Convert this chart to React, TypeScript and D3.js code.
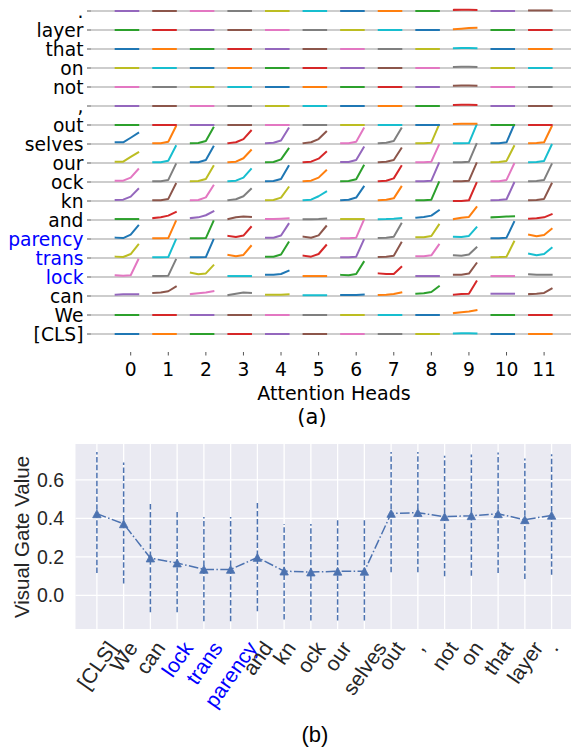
import React from 'react';
import * as d3 from 'd3';

const tokens = ['[CLS]', 'We', 'can', 'lock', 'trans', 'parency', 'and', 'kn', 'ock', 'our', 'selves', 'out', ',', 'not', 'on', 'that', 'layer', '.'];
const highlighted = ['lock', 'trans', 'parency'];
const heads = [0, 1, 2, 3, 4, 5, 6, 7, 8, 9, 10, 11];
const stepOffsets = [-0.4, -0.2, 0, 0.2];

const Z = [0, 0, 0, 0];
const curvesCLS = [Z, Z, Z, Z, Z, Z, Z, Z, Z, [0.03, 0.04, 0.04, 0.03], Z, Z];
const curvesWe = [Z, Z, Z, Z, Z, Z, Z, Z, Z, [0.1, 0.14, 0.18, 0.25], Z, Z];
const curvesCan = [[0.07, 0.09, 0.09, 0.09], [0.16, 0.18, 0.25, 0.49], [0.1, 0.14, 0.18, 0.25], [0.05, 0.12, 0.18, 0.16], [0.07, 0.07, 0.07, 0.09], [0.04, 0.04, 0.04, 0.04], [0.05, 0.05, 0.05, 0.07], [0.05, 0.07, 0.1, 0.19], [0.12, 0.14, 0.21, 0.51], [0.07, 0.1, 0.12, 0.77], [0.12, 0.12, 0.12, 0.12], [0.1, 0.12, 0.16, 0.39]];
const curvesLock = [[0.09, 0.07, 0.09, 0.91], [0.05, 0.05, 0.07, 0.91], [0.23, 0.14, 0.19, 0.61], [0.05, 0.05, 0.05, 0.05], [0.12, 0.12, 0.16, 0.33], [0.05, 0.05, 0.05, 0.05], [0.11, 0.09, 0.16, 0.79], [0.19, 0.16, 0.16, 0.53], [0.05, 0.05, 0.05, 0.05], [0.12, 0.12, 0.18, 0.72], [0.05, 0.05, 0.05, 0.05], [0.14, 0.12, 0.12, 0.12]];
const curvesTrans = [[0.07, 0.05, 0.21, 0.7], [0.04, 0.04, 0.05, 0.96], [0.04, 0.04, 0.05, 0.96], [0.16, 0.09, 0.16, 0.63], [0.07, 0.07, 0.18, 0.82], [0.12, 0.07, 0.21, 0.67], [0.04, 0.04, 0.07, 0.95], [0.05, 0.07, 0.12, 0.81], [0.09, 0.09, 0.14, 0.7], [0.14, 0.12, 0.18, 0.56], [0.04, 0.05, 0.07, 0.86], [0.23, 0.14, 0.21, 0.53]];
const curvesParency = [[0.07, 0.05, 0.23, 0.7], [0.04, 0.04, 0.05, 0.93], [0.04, 0.04, 0.05, 0.93], [0.16, 0.11, 0.18, 0.63], [0.07, 0.07, 0.18, 0.79], [0.12, 0.07, 0.19, 0.67], [0.04, 0.04, 0.07, 0.98], [0.05, 0.07, 0.12, 0.81], [0.09, 0.09, 0.16, 0.75], [0.12, 0.11, 0.16, 0.61], [0.04, 0.04, 0.07, 0.89], [0.23, 0.14, 0.21, 0.53]];
const curvesAnd = [[0.05, 0.05, 0.05, 0.05], [0.1, 0.14, 0.23, 0.42], [0.1, 0.14, 0.25, 0.46], [0.05, 0.14, 0.18, 0.16], [0.05, 0.05, 0.07, 0.09], [0.04, 0.04, 0.05, 0.07], [0.05, 0.05, 0.05, 0.05], [0.04, 0.05, 0.07, 0.1], [0.12, 0.16, 0.23, 0.51], [0.05, 0.12, 0.16, 0.67], [0.14, 0.16, 0.18, 0.19], [0.07, 0.09, 0.14, 0.3]];
const curvesKn = [[0.05, 0.07, 0.23, 0.63], [0.04, 0.04, 0.11, 0.9], [0.04, 0.05, 0.19, 0.81], [0.04, 0.09, 0.25, 0.63], [0.04, 0.05, 0.18, 0.72], [0.04, 0.07, 0.25, 0.49], [0.04, 0.07, 0.18, 0.75], [0.04, 0.07, 0.14, 0.75], [0.04, 0.04, 0.07, 0.98], [0.0, 0.0, 0.04, 0.95], [0.04, 0.05, 0.09, 0.95], [0.04, 0.05, 0.11, 0.91]];
const curvesOck = [[0.07, 0.07, 0.23, 0.67], [0.04, 0.04, 0.11, 0.93], [0.04, 0.05, 0.16, 0.84], [0.04, 0.07, 0.23, 0.68], [0.04, 0.05, 0.16, 0.84], [0.04, 0.07, 0.23, 0.61], [0.04, 0.05, 0.14, 0.86], [0.04, 0.07, 0.19, 0.84], [0.04, 0.04, 0.07, 0.98], [0.04, 0.04, 0.07, 0.98], [0.04, 0.04, 0.11, 0.95], [0.04, 0.05, 0.11, 0.93]];
const curvesOur = [[0.07, 0.07, 0.32, 0.56], [0.04, 0.04, 0.12, 0.89], [0.04, 0.04, 0.16, 0.86], [0.04, 0.07, 0.25, 0.67], [0.04, 0.05, 0.19, 0.75], [0.04, 0.07, 0.23, 0.58], [0.05, 0.05, 0.16, 0.82], [0.04, 0.07, 0.16, 0.77], [0.04, 0.04, 0.07, 0.95], [0.04, 0.04, 0.07, 1.0], [0.04, 0.05, 0.11, 0.89], [0.04, 0.05, 0.11, 0.95]];
const curvesSelves = [[0.09, 0.09, 0.33, 0.58], [0.04, 0.04, 0.12, 0.91], [0.04, 0.05, 0.16, 0.86], [0.04, 0.09, 0.26, 0.7], [0.04, 0.07, 0.18, 0.82], [0.04, 0.09, 0.26, 0.65], [0.04, 0.04, 0.12, 0.82], [0.04, 0.07, 0.16, 0.82], [0.04, 0.04, 0.07, 1.0], [0.04, 0.04, 0.05, 1.0], [0.04, 0.04, 0.09, 1.0], [0.04, 0.05, 0.09, 0.91]];
const curvesOut = [Z, Z, Z, Z, Z, Z, Z, Z, Z, [0.05, 0.06, 0.06, 0.06], Z, Z];
const curvesComma = [Z, Z, Z, Z, Z, Z, Z, Z, Z, [0.05, 0.06, 0.06, 0.05], Z, Z];
const curvesNot = [Z, Z, Z, Z, Z, Z, Z, Z, Z, [0.07, 0.08, 0.08, 0.07], Z, Z];
const curvesOn = [Z, Z, Z, Z, Z, Z, Z, Z, Z, [0.05, 0.06, 0.06, 0.05], Z, Z];
const curvesThat = [Z, Z, Z, Z, Z, Z, Z, Z, Z, [0.04, 0.05, 0.05, 0.04], Z, Z];
const curvesLayer = [Z, Z, Z, Z, Z, Z, Z, Z, Z, [0.04, 0.07, 0.1, 0.12], Z, Z];
const curvesPeriod = [Z, Z, Z, Z, Z, Z, Z, Z, Z, [0.06, 0.07, 0.07, 0.06], Z, [0.03, 0.03, 0.03, 0.03]];

const headCurves = [curvesCLS, curvesWe, curvesCan, curvesLock, curvesTrans, curvesParency, curvesAnd, curvesKn, curvesOck, curvesOur, curvesSelves, curvesOut, curvesComma, curvesNot, curvesOn, curvesThat, curvesLayer, curvesPeriod];

const gateMean = [0.424, 0.372, 0.194, 0.168, 0.135, 0.135, 0.197, 0.126, 0.121, 0.125, 0.125, 0.426, 0.43, 0.409, 0.414, 0.424, 0.393, 0.416];
const gateLow = [0.116, 0.061, -0.088, -0.088, -0.135, -0.135, -0.083, -0.126, -0.131, -0.131, -0.131, 0.12, 0.12, 0.099, 0.102, 0.116, 0.085, 0.107];
const gateHigh = [0.745, 0.691, 0.476, 0.438, 0.407, 0.407, 0.487, 0.371, 0.371, 0.39, 0.39, 0.746, 0.746, 0.726, 0.733, 0.743, 0.712, 0.734];
const gateTicks = [0, 0.2, 0.4, 0.6];

const DV = "'DejaVu Sans', sans-serif";
const AR = "'Liberation Sans', Arial, sans-serif";
const BLUE = '#4C72B0';

function measure(text: string, font: string): number {
  const c = document.createElement('canvas').getContext('2d');
  if (!c) return text.length * 10;
  c.font = font;
  return c.measureText(text).width;
}

export default function App() {
  // Panel (a)
  const xA = d3.scaleLinear().domain([0, 11]).range([130.7, 544.1]);
  const yA = d3.scaleLinear().domain([0, 17]).range([334, 11]);
  const spark = d3
    .line<[number, number]>()
    .x((d) => d[0])
    .y((d) => d[1]);

  // Panel (b)
  const xB = d3.scaleLinear().domain([-0.8, 17.8]).range([75.5, 573]);
  const yB = d3.scaleLinear().domain([-0.175, 0.787]).range([629, 444]);
  const gateLine = d3
    .line<number>()
    .x((_, i) => xB(i))
    .y((d) => yB(d));

  const lblFs = 21;
  const rot = 55;
  const rad = (rot * Math.PI) / 180;
  const H = lblFs * 1.12;
  const labelTop = 637;

  const tri = (cx: number, cy: number) => {
    const w = 8.4, h = 7.8;
    return `M${cx},${cy - h / 2}L${cx + w / 2},${cy + h / 2}L${cx - w / 2},${cy + h / 2}Z`;
  };

  return (
    <svg width={571} height={751} style={{ position: 'absolute', left: 0, top: 0, background: '#fff' }}>
      {/* ---------- Panel (a) ---------- */}
      <g>
        {tokens.map((t, i) => (
          <g key={'row' + i}>
            <line x1={91} x2={571} y1={yA(i)} y2={yA(i)} stroke="#bdbdbd" strokeWidth={1.6} />
            <line x1={87} x2={91} y1={yA(i)} y2={yA(i)} stroke="#555" strokeWidth={1} />
            <text
              x={83.5}
              y={yA(i)}
              textAnchor="end"
              dominantBaseline="central"
              fontFamily={DV}
              fontSize={18.7}
              fill={highlighted.includes(t) ? '#0000ff' : '#000'}
            >
              {t}
            </text>
          </g>
        ))}
        {headCurves.map((row, i) =>
          row.map((vals, h) => (
            <path
              key={`c${i}-${h}`}
              d={spark(vals.map((v, k) => [xA(h + stepOffsets[k]), yA(i + v)] as [number, number])) || ''}
              fill="none"
              stroke={d3.schemeCategory10[(i * 12 + h) % 10]}
              strokeWidth={2}
              strokeLinejoin="round"
              strokeLinecap="square"
            />
          ))
        )}
        {heads.map((h) => (
          <g key={'xt' + h}>
            <line x1={xA(h)} x2={xA(h)} y1={352} y2={355.5} stroke="#555" strokeWidth={1} />
            <text x={xA(h)} y={376} textAnchor="middle" fontFamily={DV} fontSize={18.7} fill="#000">
              {h}
            </text>
          </g>
        ))}
        <text x={334} y={400} textAnchor="middle" fontFamily={DV} fontSize={19} fill="#000">
          Attention Heads
        </text>
        <text x={312} y={424} textAnchor="middle" fontFamily={DV} fontSize={21} fill="#000">
          (a)
        </text>
      </g>

      {/* ---------- Panel (b) ---------- */}
      <g>
        <rect x={75.5} y={444} width={500} height={185} fill="#EAEAF2" />
        {tokens.map((_, i) => (
          <line key={'vg' + i} x1={xB(i)} x2={xB(i)} y1={444} y2={629} stroke="#fff" strokeWidth={1.3} />
        ))}
        {gateTicks.map((t) => (
          <g key={'yg' + t}>
            <line x1={75.5} x2={575} y1={yB(t)} y2={yB(t)} stroke="#fff" strokeWidth={1.3} />
            <text
              x={64}
              y={yB(t)}
              textAnchor="end"
              dominantBaseline="central"
              fontFamily={AR}
              fontSize={19.5}
              fill="#262626"
            >
              {t.toFixed(1)}
            </text>
          </g>
        ))}
        <text
          transform={`translate(21,537) rotate(-90)`}
          textAnchor="middle"
          dominantBaseline="central"
          fontFamily={AR}
          fontSize={20.5}
          fill="#262626"
        >
          Visual Gate Value
        </text>
        {gateMean.map((_, i) => (
          <line
            key={'eb' + i}
            x1={xB(i)}
            x2={xB(i)}
            y1={yB(gateLow[i])}
            y2={yB(gateHigh[i])}
            stroke={BLUE}
            strokeWidth={1.5}
            strokeDasharray="5.5,2.4"
          />
        ))}
        <path d={gateLine(gateMean) || ''} fill="none" stroke={BLUE} strokeWidth={1.5} strokeDasharray="9.6,2.4,1.5,2.4" />
        {gateMean.map((m, i) => (
          <path key={'mk' + i} d={tri(xB(i), yB(m))} fill={BLUE} stroke={BLUE} strokeWidth={0.8} />
        ))}
        {tokens.map((t, i) => {
          const L = measure(t, `${lblFs}px 'Liberation Sans'`);
          const bh = L * Math.sin(rad) + H * Math.cos(rad);
          return (
            <text
              key={'xl' + i}
              transform={`translate(${xB(i)},${labelTop + bh / 2}) rotate(${-rot})`}
              textAnchor="middle"
              dominantBaseline="central"
              fontFamily={AR}
              fontSize={lblFs}
              fill={highlighted.includes(t) ? '#0000ff' : '#262626'}
            >
              {t}
            </text>
          );
        })}
        <text x={315} y={742} textAnchor="middle" fontFamily={AR} fontSize={22} fill="#000">
          (b)
        </text>
      </g>
    </svg>
  );
}
